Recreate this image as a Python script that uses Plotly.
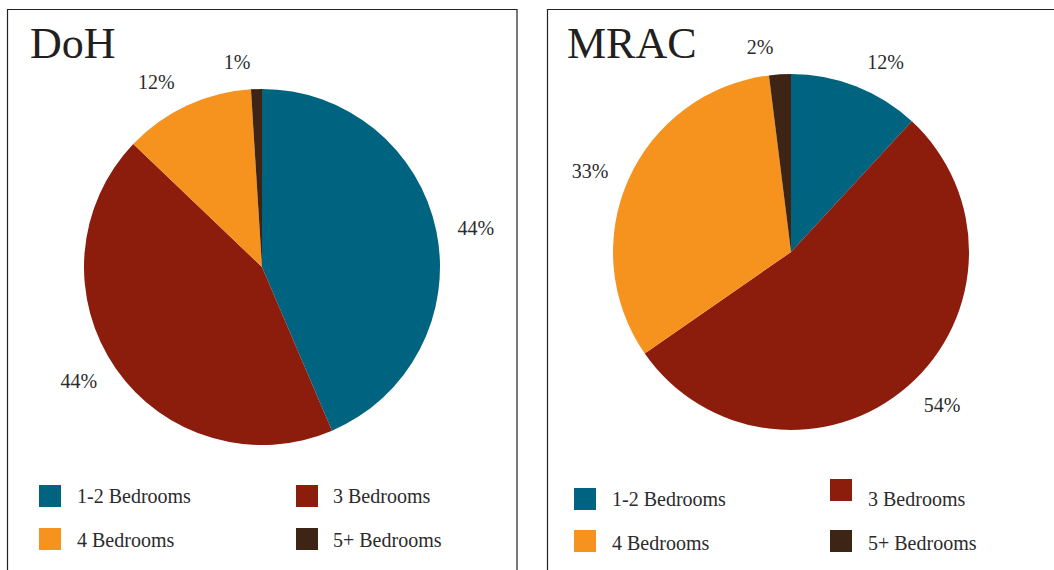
import plotly.graph_objects as go

# ---- data -------------------------------------------------------------
categories = ["1-2 Bedrooms", "3 Bedrooms", "4 Bedrooms", "5+ Bedrooms"]
doh_share = [44, 44, 12, 1]
mrac_share = [12, 54, 33, 2]
colors = ["#00637F", "#8C1C0C", "#F6921E", "#3E2415"]

W, H = 1054, 570
SERIF = "Liberation Serif"
TEXT = "#2b2b2b"


def px(x):
    return x / W


def py(y):
    return 1 - y / H


def domain(cx, cy, r):
    return dict(x=[px(cx - r), px(cx + r)], y=[py(cy + r), py(cy - r)])


fig = go.Figure()

panels = [
    dict(name="DoH", values=doh_share, cx=262, cy=267, box=(7, 517),
         title_x=28,
         legend=[(39, 75, 496, 496), (296, 331, 496, 496),
                 (39, 75, 539, 540), (296, 331, 539, 540)]),
    dict(name="MRAC", values=mrac_share, cx=791, cy=252, box=(547, 1060),
         title_x=565,
         legend=[(574, 610, 499, 499), (830, 866, 490, 499),
                 (574, 610, 541, 543), (830, 866, 541, 543)]),
]

R = 178
R_LABEL = 194
label_font = dict(family=SERIF, size=20, color=TEXT)

# two label layers so neighbouring small slices keep their own positions
label_groups = [
    ["outside", "outside", "none", "outside"],
    ["none", "none", "outside", "none"],
]

for p in panels:
    # filled pie
    fig.add_trace(go.Pie(
        labels=categories, values=p["values"], sort=False,
        direction="clockwise", rotation=0,
        marker=dict(colors=colors, line=dict(width=0)),
        textinfo="none", hoverinfo="label+value",
        domain=domain(p["cx"], p["cy"], R), showlegend=False,
    ))
    # percentage labels placed just outside a slightly larger ring
    for positions in label_groups:
        fig.add_trace(go.Pie(
            labels=categories, values=p["values"], sort=False,
            direction="clockwise", rotation=0,
            marker=dict(colors=["rgba(0,0,0,0)"] * 4, line=dict(width=0)),
            texttemplate="%{value}%", textposition=positions,
            textfont=label_font, outsidetextfont=label_font,
            hoverinfo="skip",
            domain=domain(p["cx"], p["cy"], R_LABEL), showlegend=False,
        ))

shapes = []
annotations = []
for p in panels:
    x0, x1 = p["box"]
    shapes.append(dict(type="rect", xref="paper", yref="paper",
                       x0=px(x0 + 0.5), x1=px(x1), y0=py(H + 20), y1=py(9.5),
                       line=dict(color="#222222", width=1.2),
                       fillcolor="rgba(0,0,0,0)", layer="below"))
    annotations.append(dict(text=p["name"], xref="paper", yref="paper",
                            x=px(p["title_x"]), y=py(43), xanchor="left",
                            yanchor="middle", showarrow=False,
                            font=dict(family=SERIF, size=44, color="#231F20")))
    for (mx, tx, my, ty), cat, col in zip(p["legend"], categories, colors):
        shapes.append(dict(type="rect", xref="paper", yref="paper",
                           x0=px(mx), x1=px(mx + 22),
                           y0=py(my + 11), y1=py(my - 11),
                           line=dict(width=0), fillcolor=col))
        annotations.append(dict(text=cat, xref="paper", yref="paper",
                                x=px(tx), y=py(ty), xanchor="left",
                                yanchor="middle", showarrow=False,
                                font=dict(family=SERIF, size=20, color=TEXT)))

fig.update_layout(
    width=W, height=H,
    margin=dict(l=0, r=0, t=0, b=0),
    font=dict(family=SERIF, color=TEXT),
    paper_bgcolor="white", plot_bgcolor="white",
    shapes=shapes, annotations=annotations,
    showlegend=False,
)

fig.write_html("out.html")
